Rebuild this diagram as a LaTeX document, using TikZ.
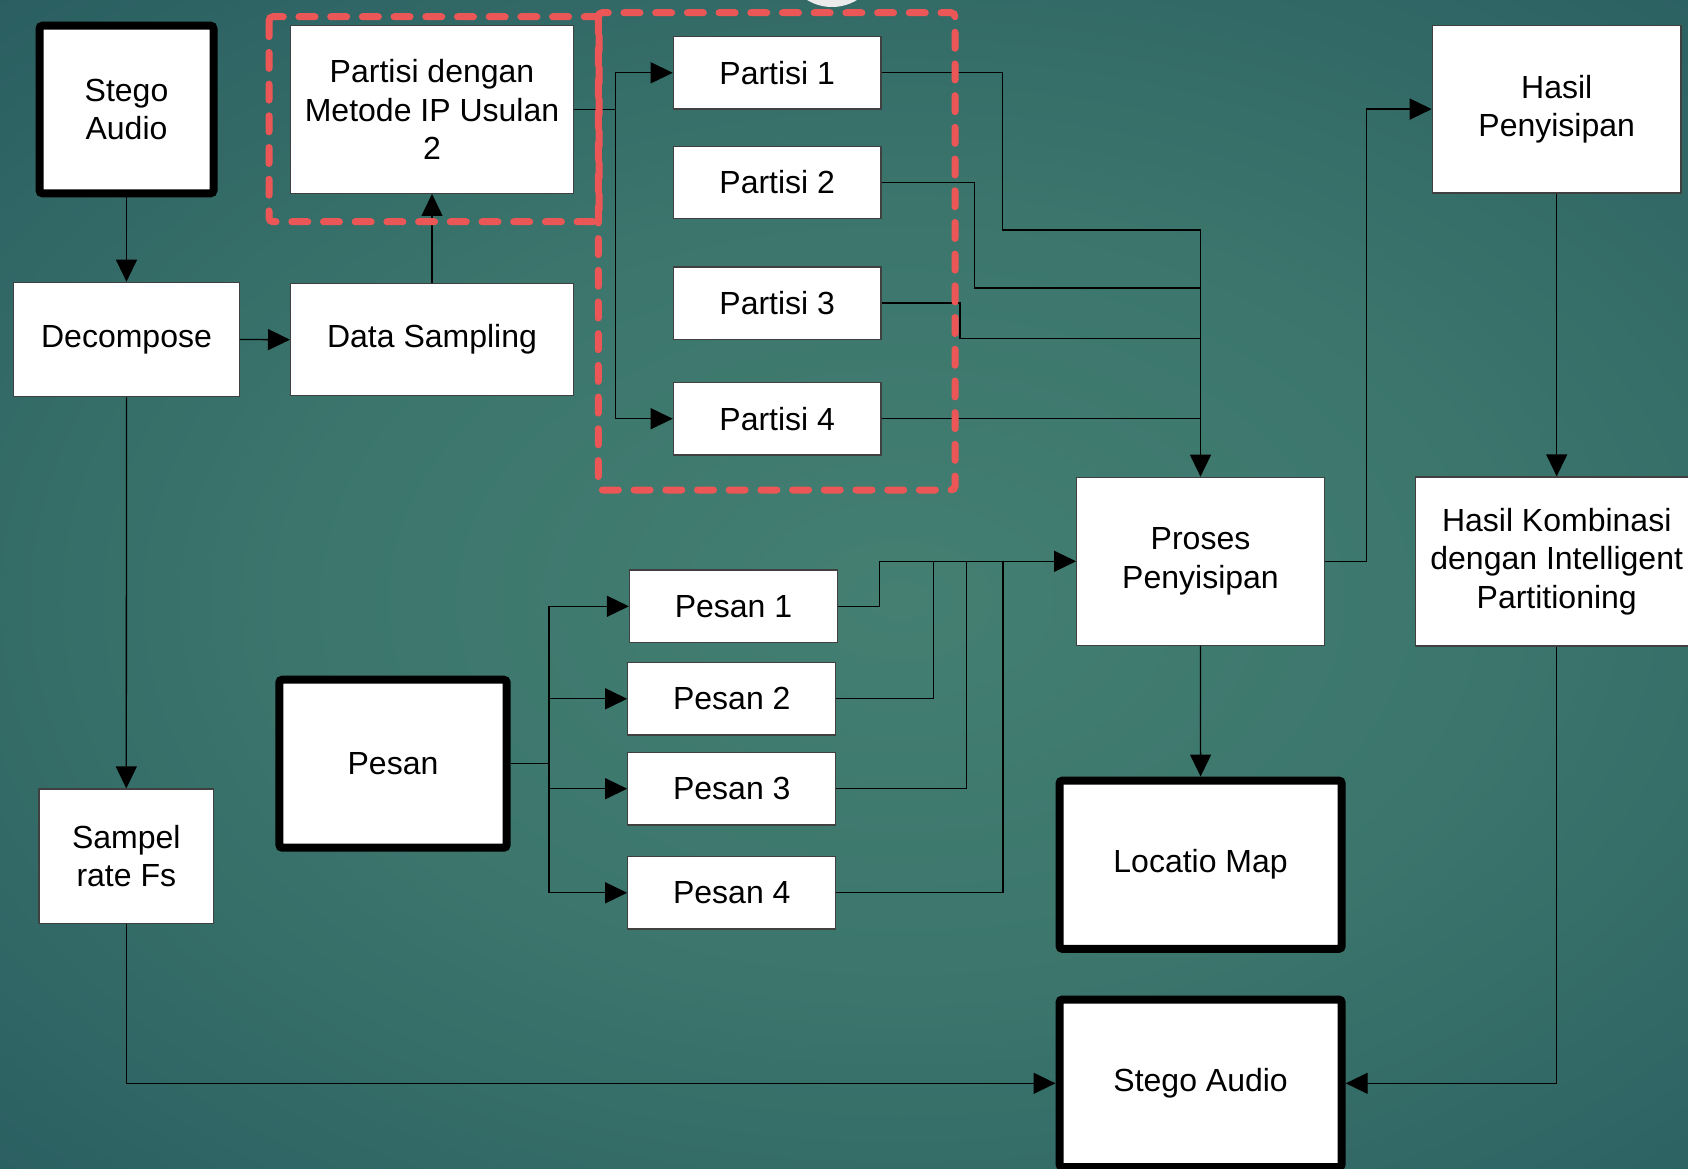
\documentclass[tikz,border=0pt]{standalone}
\usepackage{fontspec}
\setmainfont{Liberation Sans}
\usetikzlibrary{arrows.meta}
\definecolor{bgin}{HTML}{447F72}
\definecolor{bgmida}{HTML}{3B756C}
\definecolor{bgmidb}{HTML}{2A5E61}
\definecolor{bgmid}{HTML}{1F4E57}
\definecolor{bgout}{HTML}{16404E}
\definecolor{dashred}{HTML}{EB5757}
\pgfdeclareradialshading{bgshade}{\pgfpoint{0bp}{0bp}}{color(0bp)=(bgin); color(16bp)=(bgmida); color(34bp)=(bgmidb); color(50bp)=(bgmid); color(72bp)=(bgout)}
\newcommand\diafont{\fontsize{32pt}{38.3pt}\selectfont}
\begin{document}
\begin{tikzpicture}[x=1pt,y=-1pt,
  box/.style={draw=black!75, line width=1.3pt, fill=white, inner sep=0pt, align=center, font=\diafont},
  thick box/.style={draw=black, line width=8pt, rounded corners=3pt, fill=white, inner sep=0pt, align=center, font=\diafont},
  conn/.style={draw=black, line width=1.3pt},
  arr/.style={conn, -{Triangle[length=22pt,width=21pt]}},
  redbox/.style={draw=dashred, line width=7pt, line cap=round, dash pattern=on 16pt off 15.7pt, rounded corners=4pt}
]
\useasboundingbox (0,0) rectangle (1688,1168);
\begin{scope}
  \clip (0,0) rectangle (1688,1168);
  \shade[shading=bgshade] (-60,-20) rectangle (1860,1220);
  \fill[white!92!black] (832,-41) circle (48);
\end{scope}

% nodes
\node[thick box, minimum width=174pt, minimum height=167.6pt] (sa1) at (126.5,109.5) {Stego\\Audio};
\node[box, minimum width=282.7pt, minimum height=167.6pt] (pd) at (432,109.5) {Partisi dengan\\Metode IP Usulan\\2};
\node[box, minimum width=225.4pt, minimum height=114.4pt] (dec) at (126.5,339.5) {Decompose};
\node[box, minimum width=282.7pt, minimum height=112pt] (ds) at (432,339.7) {Data Sampling};
\node[box, minimum width=207.7pt, minimum height=72.3pt] (p1) at (777.2,72.8) {Partisi 1};
\node[box, minimum width=207.7pt, minimum height=72.3pt] (p2) at (777.2,182.5) {Partisi 2};
\node[box, minimum width=207.7pt, minimum height=72.3pt] (p3) at (777.2,303) {Partisi 3};
\node[box, minimum width=207.7pt, minimum height=72.3pt] (p4) at (777.2,418.7) {Partisi 4};
\node[box, minimum width=247.6pt, minimum height=168pt] (pr) at (1200.5,561.3) {Proses\\Penyisipan};
\node[box, minimum width=248.7pt, minimum height=167.8pt] (hp) at (1556.7,109.1) {Hasil\\Penyisipan};
\node[box, minimum width=282pt, minimum height=169pt] (hk) at (1556.7,561.5) {Hasil Kombinasi\\dengan Intelligent\\Partitioning};
\node[box, minimum width=208pt, minimum height=72.7pt] (m1) at (733.5,606.3) {Pesan 1};
\node[box, minimum width=208pt, minimum height=72.5pt] (m2) at (731.8,698.8) {Pesan 2};
\node[box, minimum width=208pt, minimum height=72.5pt] (m3) at (731.8,788.7) {Pesan 3};
\node[box, minimum width=208pt, minimum height=72.5pt] (m4) at (731.8,892.8) {Pesan 4};
\node[thick box, minimum width=227.4pt, minimum height=168pt] (pes) at (393,763.7) {Pesan};
\node[box, minimum width=174.7pt, minimum height=134.3pt] (sr) at (126.3,856.2) {Sampel\\rate Fs};
\node[thick box, minimum width=282.2pt, minimum height=168.3pt] (lm) at (1200.6,864.7) {Locatio Map};
\node[thick box, minimum width=282.2pt, minimum height=167.6pt] (sa2) at (1200.6,1083.3) {Stego Audio};

% connectors
\draw[arr] (sa1.south) -- (dec.north);
\draw[arr] (dec.east) -- (ds.west);
\draw[arr] (ds.north) -- (pd.south);
\draw[arr] (dec.south) -- (sr.north);

\coordinate (s1) at (615.7,109.5);
\draw[conn] (pd.east) -- (s1);
\draw[arr] (s1) |- (p1.west);
\draw[arr] (s1) |- (p4.west);

\coordinate (j1) at (1200.5,230);
\coordinate (j2) at (1200.5,288);
\coordinate (j3) at (1200.5,338.3);
\coordinate (j4) at (1200.5,418.7);
\draw[conn] (p1.east) -| (1002.7,230) -- (j1);
\draw[conn] (p2.east) -| (974.3,288) -- (j2);
\draw[conn] (p3.east) -| (960,338.3) -- (j3);
\draw[conn] (p4.east) -- (j4);
\draw[arr] (j1) -- (pr.north);

\coordinate (s2) at (548.9,763.7);
\draw[conn] (pes.east) -- (s2);
\draw[arr] (s2) |- (m1.west);
\draw[arr] (s2) |- (m2.west);
\draw[arr] (s2) |- (m3.west);
\draw[arr] (s2) |- (m4.west);

\draw[arr] (m1.east) -| (879.6,561.3) -- (pr.west);
\draw[conn] (m2.east) -| (933.2,561.3);
\draw[conn] (m3.east) -| (966.8,561.3);
\draw[conn] (m4.east) -| (1002.9,561.3);

\draw[arr] (pr.east) -- (1366.7,561.3) |- (hp.west);
\draw[arr] (hp.south) -- (hk.north);
\draw[arr] (pr.south) -- (lm.north);
\draw[arr] (sr.south) |- (sa2.west);
\draw[arr] (hk.south) |- (sa2.east);

% red dashed groups
\draw[redbox] (269,16.7) rectangle (599,221.7);
\draw[redbox] (598.3,12.7) rectangle (955,490);
\end{tikzpicture}
\end{document}
